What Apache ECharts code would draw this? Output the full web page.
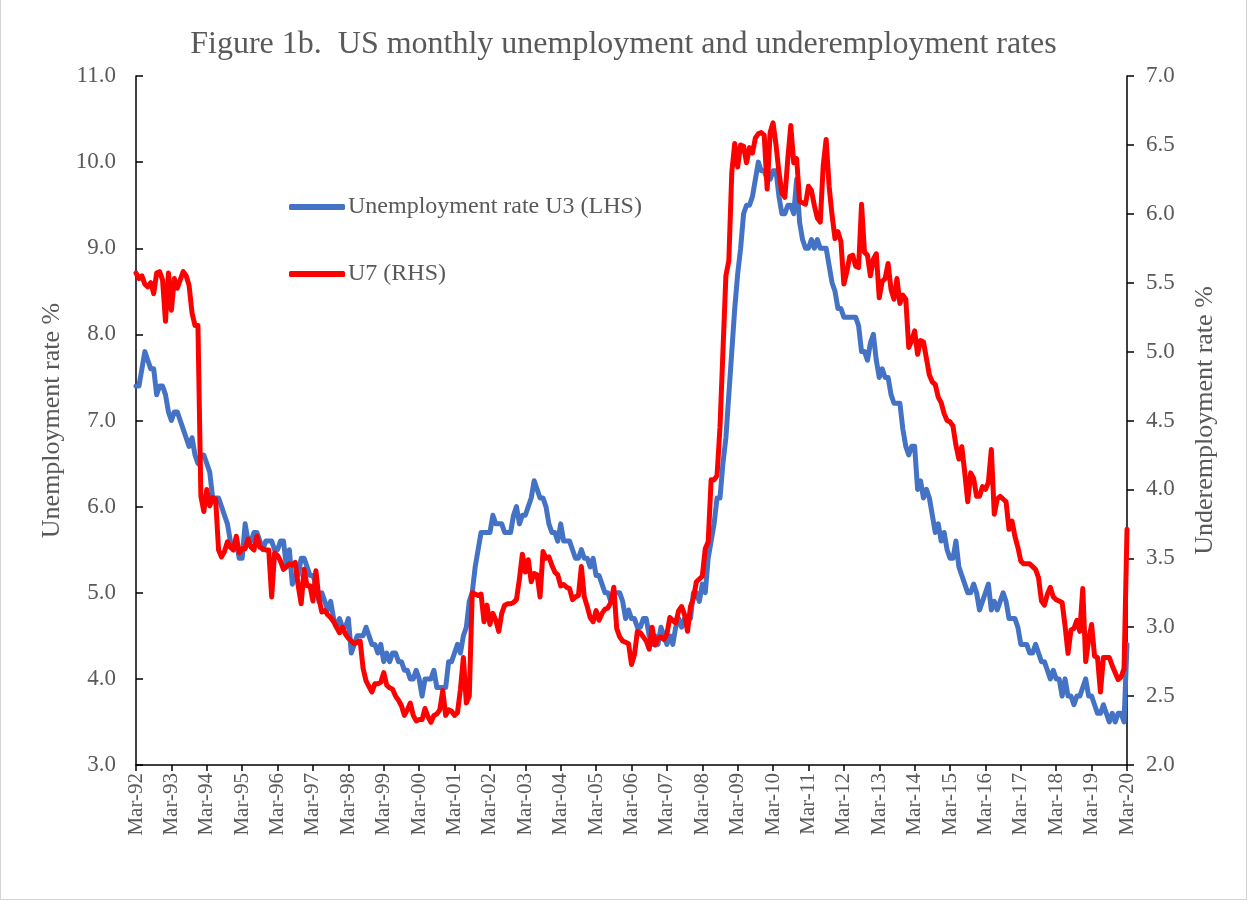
<!DOCTYPE html>
<html>
<head>
<meta charset="utf-8">
<script src="https://cdn.jsdelivr.net/npm/echarts@6/dist/echarts.min.js"></script>
<style>
html,body{margin:0;padding:0;background:#fff;}
#wrap{position:absolute;left:0;top:0;width:1245px;height:899px;border:1px solid #d4d4d4;border-top:none;}
#chart{width:1245px;height:899px;}
</style>
</head>
<body>
<div id="wrap"><div id="chart"></div></div>
<script>
// Month labels Mar-92 .. Mar-20 (337 months)
var monthNames = ['Jan','Feb','Mar','Apr','May','Jun','Jul','Aug','Sep','Oct','Nov','Dec'];
var startYear = 1992, startMonth = 2, nMonths = 337;
var categories = [];
for (var i = 0; i < nMonths; i++) {
  var mi = startMonth + i;
  var y = startYear + Math.floor(mi / 12);
  categories.push(monthNames[mi % 12] + '-' + String(y % 100).padStart(2, '0'));
}

// Unemployment rate U3 (LHS), Mar-92 .. Mar-20
var u3_1992 = [7.4,7.4,7.6,7.8,7.7,7.6,7.6,7.3,7.4,7.4];
var u3_1993 = [7.3,7.1,7.0,7.1,7.1,7.0,6.9,6.8,6.7,6.8,6.6,6.5];
var u3_1994 = [6.6,6.6,6.5,6.4,6.1,6.1,6.1,6.0,5.9,5.8,5.6,5.5];
var u3_1995 = [5.6,5.4,5.4,5.8,5.6,5.6,5.7,5.7,5.6,5.5,5.6,5.6];
var u3_1996 = [5.6,5.5,5.5,5.6,5.6,5.3,5.5,5.1,5.2,5.2,5.4,5.4];
var u3_1997 = [5.3,5.2,5.2,5.1,4.9,5.0,4.9,4.8,4.9,4.7,4.6,4.7];
var u3_1998 = [4.6,4.6,4.7,4.3,4.4,4.5,4.5,4.5,4.6,4.5,4.4,4.4];
var u3_1999 = [4.3,4.4,4.2,4.3,4.2,4.3,4.3,4.2,4.2,4.1,4.1,4.0];
var u3_2000 = [4.0,4.1,4.0,3.8,4.0,4.0,4.0,4.1,3.9,3.9,3.9,3.9];
var u3_2001 = [4.2,4.2,4.3,4.4,4.3,4.5,4.6,4.9,5.0,5.3,5.5,5.7];
var u3_2002 = [5.7,5.7,5.7,5.9,5.8,5.8,5.8,5.7,5.7,5.7,5.9,6.0];
var u3_2003 = [5.8,5.9,5.9,6.0,6.1,6.3,6.2,6.1,6.1,6.0,5.8,5.7];
var u3_2004 = [5.7,5.6,5.8,5.6,5.6,5.6,5.5,5.4,5.4,5.5,5.4,5.4];
var u3_2005 = [5.3,5.4,5.2,5.2,5.1,5.0,5.0,4.9,5.0,5.0,5.0,4.9];
var u3_2006 = [4.7,4.8,4.7,4.7,4.6,4.6,4.7,4.7,4.5,4.4,4.5,4.4];
var u3_2007 = [4.6,4.5,4.4,4.5,4.4,4.6,4.7,4.6,4.7,4.7,4.7,5.0];
var u3_2008 = [5.0,4.9,5.1,5.0,5.4,5.6,5.8,6.1,6.1,6.5,6.8,7.3];
var u3_2009 = [7.8,8.3,8.7,9.0,9.4,9.5,9.5,9.6,9.8,10.0,9.9,9.9];
var u3_2010 = [9.8,9.8,9.9,9.9,9.6,9.4,9.4,9.5,9.5,9.4,9.8,9.3];
var u3_2011 = [9.1,9.0,9.0,9.1,9.0,9.1,9.0,9.0,9.0,8.8,8.6,8.5];
var u3_2012 = [8.3,8.3,8.2,8.2,8.2,8.2,8.2,8.1,7.8,7.8,7.7,7.9];
var u3_2013 = [8.0,7.7,7.5,7.6,7.5,7.5,7.3,7.2,7.2,7.2,6.9,6.7];
var u3_2014 = [6.6,6.7,6.7,6.2,6.3,6.1,6.2,6.1,5.9,5.7,5.8,5.6];
var u3_2015 = [5.7,5.5,5.4,5.4,5.6,5.3,5.2,5.1,5.0,5.0,5.1,5.0];
var u3_2016 = [4.8,4.9,5.0,5.1,4.8,4.9,4.8,4.9,5.0,4.9,4.7,4.7];
var u3_2017 = [4.7,4.6,4.4,4.4,4.4,4.3,4.3,4.4,4.3,4.2,4.2,4.1];
var u3_2018 = [4.0,4.1,4.0,4.0,3.8,4.0,3.8,3.8,3.7,3.8,3.8,3.9];
var u3_2019 = [4.0,3.8,3.8,3.7,3.6,3.6,3.7,3.6,3.5,3.6,3.5,3.6];
var u3_2020 = [3.6,3.5,4.4];

// U7 underemployment rate (RHS), Mar-92 .. Mar-20
var u7_1992 = [5.57,5.53,5.55,5.49,5.47,5.50,5.42,5.57,5.58,5.52];
var u7_1993 = [5.22,5.57,5.30,5.53,5.46,5.52,5.58,5.55,5.48,5.28,5.19,5.19];
var u7_1994 = [3.95,3.84,4.00,3.88,3.94,3.93,3.56,3.51,3.55,3.62,3.58,3.56];
var u7_1995 = [3.66,3.54,3.57,3.57,3.64,3.58,3.56,3.66,3.58,3.57,3.56,3.56];
var u7_1996 = [3.22,3.54,3.52,3.48,3.42,3.44,3.46,3.45,3.47,3.30,3.17,3.42];
var u7_1997 = [3.30,3.30,3.19,3.41,3.21,3.11,3.12,3.09,3.07,3.04,3.00,2.96];
var u7_1998 = [3.00,2.95,2.92,2.90,2.88,2.89,2.90,2.70,2.61,2.57,2.53,2.59];
var u7_1999 = [2.59,2.60,2.67,2.58,2.56,2.55,2.50,2.47,2.43,2.36,2.40,2.45];
var u7_2000 = [2.36,2.32,2.33,2.33,2.41,2.35,2.31,2.36,2.37,2.40,2.54,2.36];
var u7_2001 = [2.40,2.39,2.36,2.38,2.55,2.78,2.45,2.50,3.25,3.24,3.23,3.24];
var u7_2002 = [3.04,3.16,3.02,3.10,3.05,2.97,3.10,3.16,3.17,3.17,3.18,3.20];
var u7_2003 = [3.35,3.53,3.40,3.49,3.33,3.39,3.38,3.22,3.55,3.50,3.51,3.45];
var u7_2004 = [3.40,3.38,3.30,3.31,3.29,3.28,3.20,3.22,3.23,3.44,3.22,3.15];
var u7_2005 = [3.07,3.04,3.12,3.05,3.10,3.13,3.14,3.18,3.29,2.99,2.93,2.90];
var u7_2006 = [2.89,2.88,2.73,2.80,2.97,2.96,2.93,2.90,2.84,3.00,2.87,2.92];
var u7_2007 = [2.93,2.91,2.95,3.07,3.05,3.03,3.12,3.15,3.09,2.97,3.15,3.21];
var u7_2008 = [3.33,3.35,3.37,3.57,3.62,4.07,4.07,4.10,4.45,5.00,5.55,5.66];
var u7_2009 = [6.30,6.51,6.34,6.50,6.49,6.37,6.48,6.44,6.55,6.58,6.59,6.57];
var u7_2010 = [6.18,6.59,6.66,6.50,6.30,6.15,6.12,6.40,6.64,6.37,6.40,6.09];
var u7_2011 = [6.08,6.07,6.20,6.17,6.06,5.97,5.94,6.35,6.54,6.20,5.99,5.82];
var u7_2012 = [5.87,5.80,5.49,5.58,5.69,5.70,5.62,5.61,6.07,5.72,5.70,5.55];
var u7_2013 = [5.67,5.71,5.39,5.51,5.53,5.64,5.45,5.38,5.53,5.35,5.41,5.38];
var u7_2014 = [5.03,5.08,5.15,4.98,5.08,5.07,4.95,4.83,4.78,4.76,4.67,4.63];
var u7_2015 = [4.55,4.50,4.49,4.46,4.32,4.22,4.31,4.12,3.91,4.12,4.08,3.95];
var u7_2016 = [3.95,4.02,4.00,4.05,4.29,3.82,3.93,3.95,3.93,3.91,3.71,3.77];
var u7_2017 = [3.66,3.58,3.48,3.46,3.46,3.46,3.44,3.42,3.36,3.19,3.16,3.24];
var u7_2018 = [3.29,3.22,3.20,3.19,3.18,3.01,2.81,2.98,2.99,3.05,2.97,3.28];
var u7_2019 = [2.75,2.91,3.02,2.79,2.78,2.53,2.78,2.78,2.78,2.72,2.67,2.62];
var u7_2020 = [2.64,2.70,3.71];

var u3 = [].concat(u3_1992,u3_1993,u3_1994,u3_1995,u3_1996,u3_1997,u3_1998,u3_1999,u3_2000,
  u3_2001,u3_2002,u3_2003,u3_2004,u3_2005,u3_2006,u3_2007,u3_2008,u3_2009,u3_2010,
  u3_2011,u3_2012,u3_2013,u3_2014,u3_2015,u3_2016,u3_2017,u3_2018,u3_2019,u3_2020);
var u7 = [].concat(u7_1992,u7_1993,u7_1994,u7_1995,u7_1996,u7_1997,u7_1998,u7_1999,u7_2000,
  u7_2001,u7_2002,u7_2003,u7_2004,u7_2005,u7_2006,u7_2007,u7_2008,u7_2009,u7_2010,
  u7_2011,u7_2012,u7_2013,u7_2014,u7_2015,u7_2016,u7_2017,u7_2018,u7_2019,u7_2020);

var seriesNames = ['Unemployment rate U3 (LHS)', 'U7 (RHS)'];
var titleText = 'Figure 1b.  US monthly unemployment and underemployment rates';
var leftAxisName = 'Unemployment rate %';
var rightAxisName = 'Underemployment rate %';

var FONT = '"Liberation Serif", "Times New Roman", serif';
var GREY = '#595959';

var chart = echarts.init(document.getElementById('chart'), null, {renderer: 'canvas'});
chart.setOption({
  animation: false,
  backgroundColor: '#ffffff',
  title: {
    text: titleText,
    left: 'center',
    top: 24,
    textStyle: {fontFamily: FONT, fontSize: 32, fontWeight: 'normal', color: GREY}
  },
  legend: {
    orient: 'vertical',
    left: 283,
    top: 190,
    itemWidth: 56,
    itemHeight: 6,
    itemGap: 43,
    icon: 'roundRect',
    data: seriesNames,
    textStyle: {fontFamily: FONT, fontSize: 24, color: GREY, padding: [0,0,0,-2]}
  },
  grid: {left: 135, right: 119, top: 76, bottom: 134, containLabel: false},
  xAxis: {
    type: 'category',
    data: categories,
    boundaryGap: false,
    axisLine: {lineStyle: {color: '#000', width: 1.5}},
    axisTick: {show: true, interval: 11, length: 6, inside: false, lineStyle: {color: '#000', width: 1.5}},
    axisLabel: {interval: 11, rotate: 90, margin: 8, fontFamily: FONT, fontSize: 21, color: GREY},
    splitLine: {show: false}
  },
  yAxis: [
    {
      type: 'value', min: 3, max: 11, interval: 1,
      name: leftAxisName, nameLocation: 'middle', nameGap: 70, nameRotate: 90,
      nameTextStyle: {fontFamily: FONT, fontSize: 26, color: GREY},
      axisLine: {show: true, lineStyle: {color: '#000', width: 1.5}},
      axisTick: {show: true, inside: true, length: 7, lineStyle: {color: '#000', width: 1.5}},
      axisLabel: {margin: 20, fontFamily: FONT, fontSize: 23, color: GREY, formatter: function(v){return v.toFixed(1);}},
      splitLine: {show: false}
    },
    {
      type: 'value', min: 2, max: 7, interval: 0.5, position: 'right',
      name: rightAxisName, nameLocation: 'middle', nameGap: 65, nameRotate: 90,
      nameTextStyle: {fontFamily: FONT, fontSize: 26, color: GREY},
      axisLine: {show: true, lineStyle: {color: '#000', width: 1.5}},
      axisTick: {show: true, inside: false, length: 7, lineStyle: {color: '#000', width: 1.5}},
      axisLabel: {margin: 19, fontFamily: FONT, fontSize: 23, color: GREY, formatter: function(v){return v.toFixed(1);}},
      splitLine: {show: false}
    }
  ],
  series: [
    {
      name: seriesNames[0], type: 'line', yAxisIndex: 0, data: u3,
      showSymbol: false, symbol: 'none',
      itemStyle: {color: '#4472C4'},
      lineStyle: {color: '#4472C4', width: 5, join: 'round', cap: 'round'}
    },
    {
      name: seriesNames[1], type: 'line', yAxisIndex: 1, data: u7,
      showSymbol: false, symbol: 'none',
      itemStyle: {color: '#FF0000'},
      lineStyle: {color: '#FF0000', width: 5, join: 'round', cap: 'round'}
    }
  ]
});
</script>
</body>
</html>
